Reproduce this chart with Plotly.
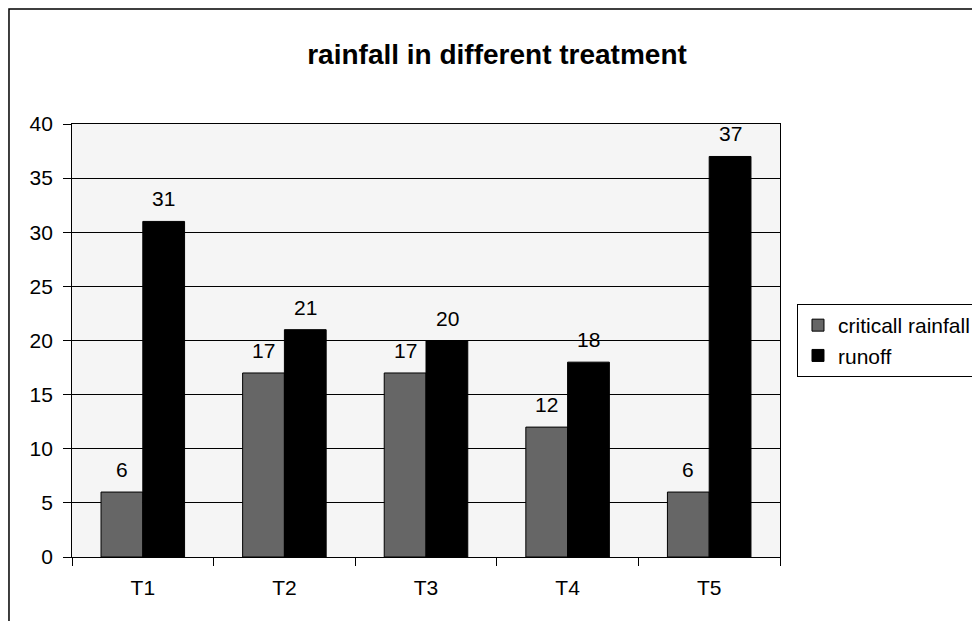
import plotly.graph_objects as go

categories = ["T1", "T2", "T3", "T4", "T5"]
critical_rainfall = [6, 17, 17, 12, 6]
runoff = [31, 21, 20, 18, 37]
y_ticks = [0, 5, 10, 15, 20, 25, 30, 35, 40]

FONT = "Liberation Sans, Arial, sans-serif"

fig = go.Figure()
fig.add_trace(go.Bar(
    x=categories, y=critical_rainfall, name="criticall rainfall",
    marker=dict(color="#666666", line=dict(color="#000000", width=1)),
))
fig.add_trace(go.Bar(
    x=categories, y=runoff, name="runoff",
    marker=dict(color="#000000", line=dict(color="#000000", width=1)),
))

# value labels above each bar
for series, shift in ((critical_rainfall, -21), (runoff, 21)):
    for cat, val in zip(categories, series):
        fig.add_annotation(x=cat, y=val, text=str(val), showarrow=False,
                           xshift=shift, yshift=9, yanchor="bottom",
                           font=dict(size=21, family=FONT, color="#000000"))

fig.update_layout(
    width=980, height=621,
    margin=dict(l=64, r=208, t=116, b=72),
    paper_bgcolor="#ffffff",
    plot_bgcolor="#f5f5f5",
    barmode="group", bargap=0.41, bargroupgap=0,
    font=dict(family=FONT, size=21, color="#000000"),
    title=dict(text="<b>rainfall in different treatment</b>", xref="container", x=0.499,
               xanchor="center", yref="container", y=0.926, yanchor="middle",
               font=dict(size=28, family=FONT, color="#000000")),
    showlegend=True,
    legend=dict(x=1.024, xanchor="left", y=0.5, yanchor="middle",
                bgcolor="#ffffff", bordercolor="#000000", borderwidth=1,
                font=dict(size=21, family=FONT, color="#000000"),
                itemwidth=30, tracegroupgap=0),
)

fig.update_yaxes(
    range=[0, 40], tickvals=y_ticks, ticktext=[str(v) + "\u00a0" for v in y_ticks],
    showgrid=True, gridcolor="#000000", gridwidth=1,
    showline=True, linecolor="#000000", linewidth=1, mirror=True,
    ticks="outside", ticklen=8, tickcolor="#000000",
    tickfont=dict(size=21, family=FONT), zeroline=False,
)
fig.update_xaxes(
    showline=True, linecolor="#000000", linewidth=1, mirror=True,
    ticks="outside", ticklen=8, tickcolor="#000000", tickson="boundaries",
    ticklabelstandoff=12,
    tickfont=dict(size=21, family=FONT), showgrid=False,
)

fig.add_shape(type="rect", xref="paper", yref="paper",
              x0=-0.089, x1=1.6, y0=-0.4, y1=1.2656,
              line=dict(color="#000000", width=1.5), fillcolor="rgba(0,0,0,0)", layer="below")

fig.write_html("out.html")
